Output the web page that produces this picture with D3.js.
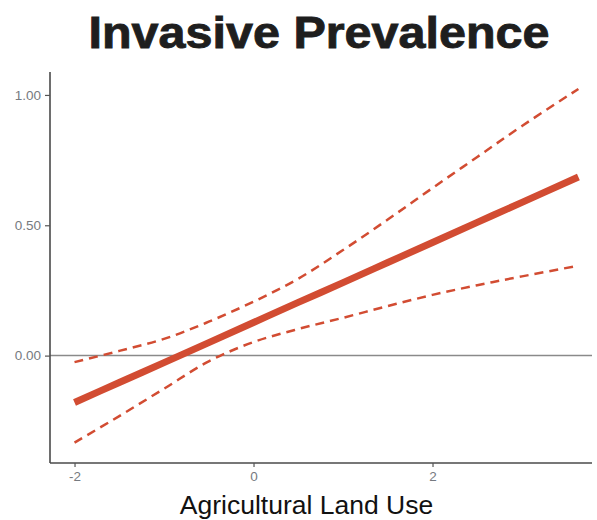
<!DOCTYPE html>
<html>
<head>
<meta charset="utf-8">
<script src="https://cdn.jsdelivr.net/npm/d3@7"></script>
<style>
  html, body { margin: 0; padding: 0; background: #fff; }
  svg { display: block; }
</style>
</head>
<body>
<svg id="chart" width="597" height="520"></svg>
<script>
// ---- data ----
const xValues   = [-2, -1.5, -1, -0.5, 0, 0.5, 1, 1.5, 2, 2.5, 3, 3.63];
const fitValues = [-0.18, -0.103, -0.027, 0.05, 0.127, 0.204, 0.28, 0.357, 0.434, 0.511, 0.588, 0.685];
const upperValues = [-0.025, 0.018, 0.064, 0.13, 0.207, 0.295, 0.405, 0.522, 0.643, 0.762, 0.881, 1.023];
const lowerValues = [-0.334, -0.232, -0.127, -0.022, 0.052, 0.102, 0.145, 0.19, 0.233, 0.27, 0.304, 0.345];
const xTicks = [-2, 0, 2];
const yTicks = [0, 0.5, 1];
const titleText = "Invasive Prevalence";
const xLabelText = "Agricultural Land Use";
const refLineY = 0;

// ---- layout ----
const svg = d3.select("#chart");
const mLeft = 50, mRight = 592, mTop = 72, mBottom = 463;
const x = d3.scaleLinear().domain([-2.274, 3.782]).range([mLeft, mRight]);
const y = d3.scaleLinear().domain([-0.412, 1.088]).range([mBottom, mTop]);
const red = "#d24c32";
const fontFam = "Liberation Sans, Arial, sans-serif";

// title
const title = svg.append("text")
  .attr("x", 319).attr("y", 48)
  .attr("text-anchor", "middle")
  .attr("font-family", fontFam)
  .attr("font-weight", "bold")
  .attr("font-size", 45)
  .attr("fill", "#1e1e1e")
  .attr("stroke", "#1e1e1e")
  .attr("stroke-width", 0.9)
  .text(titleText);
title.attr("textLength", 461).attr("lengthAdjust", "spacingAndGlyphs");

// reference line at 0
svg.append("line")
  .attr("x1", mLeft).attr("x2", mRight)
  .attr("y1", y(refLineY)).attr("y2", y(refLineY))
  .attr("stroke", "#8a8a8a").attr("stroke-width", 1.5);

// axes
const xAxis = d3.axisBottom(x).tickValues(xTicks).tickFormat(d => String(d)).tickSize(4).tickSizeOuter(0);
const yAxis = d3.axisLeft(y).tickValues(yTicks).tickFormat(d3.format(".2f")).tickSize(5).tickSizeOuter(0);

const gx = svg.append("g").attr("transform", `translate(0,${mBottom})`).call(xAxis);
const gy = svg.append("g").attr("transform", `translate(${mLeft},0)`).call(yAxis);

[gx, gy].forEach(g => {
  g.select(".domain").attr("stroke", "#4a4a4a").attr("stroke-width", 1.6);
  g.selectAll(".tick line").attr("stroke", "#555").attr("stroke-width", 1.2);
  g.selectAll(".tick text")
    .attr("fill", "#767a80")
    .attr("font-family", fontFam)
    .attr("font-size", 13.5);
});
gx.selectAll(".tick text").attr("dy", "0.9em").attr("y", 6);
gy.selectAll(".tick text").attr("x", -9);
gx.select(".domain").attr("d", `M${mLeft},0H${mRight}`);
gy.select(".domain").attr("d", `M0,${mTop}V${mBottom}`);

// x label
svg.append("text")
  .attr("x", 306.5).attr("y", 514)
  .attr("text-anchor", "middle")
  .attr("font-family", fontFam)
  .attr("font-size", 26.5)
  .attr("fill", "#111")
  .text(xLabelText);

// lines
const lineGen = vals => d3.line()
  .x((d, i) => x(xValues[i]))
  .y(d => y(d))
  .curve(d3.curveCatmullRom.alpha(0.5))(vals);

svg.append("path")
  .attr("d", lineGen(upperValues))
  .attr("fill", "none").attr("stroke", red)
  .attr("stroke-width", 2.5).attr("stroke-dasharray", "9,6");
svg.append("path")
  .attr("d", lineGen(lowerValues))
  .attr("fill", "none").attr("stroke", red)
  .attr("stroke-width", 2.5).attr("stroke-dasharray", "9,6");
svg.append("path")
  .attr("d", lineGen(fitValues))
  .attr("fill", "none").attr("stroke", red)
  .attr("stroke-width", 7);
</script>
</body>
</html>
